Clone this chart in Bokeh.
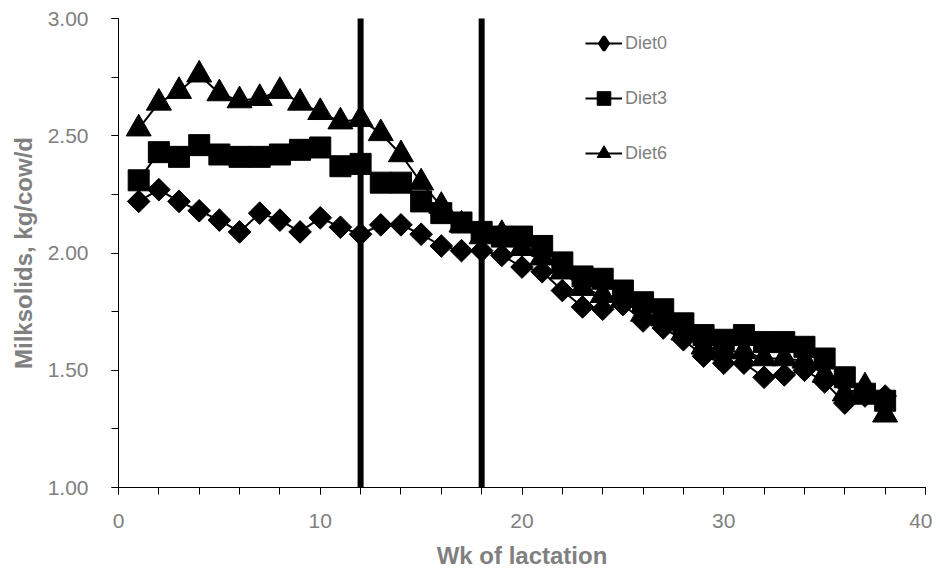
import numpy as np
from bokeh.plotting import figure
from bokeh.models import (Range1d, FixedTicker, Legend, LegendItem,
                          ColumnDataSource, NumeralTickFormatter)
from bokeh.embed import file_html
from bokeh.resources import INLINE

weeks = list(range(1, 39))
diet0 = [2.22, 2.27, 2.22, 2.18, 2.14, 2.09, 2.17, 2.14, 2.09, 2.15,
         2.11, 2.08, 2.12, 2.12, 2.08, 2.03, 2.01, 2.01, 1.99, 1.94,
         1.92, 1.84, 1.77, 1.76, 1.78, 1.71, 1.68, 1.63, 1.56, 1.53,
         1.53, 1.47, 1.48, 1.50, 1.45, 1.36, 1.39, 1.39]
diet3 = [2.31, 2.43, 2.41, 2.46, 2.42, 2.41, 2.41, 2.42, 2.44, 2.45,
         2.37, 2.38, 2.30, 2.30, 2.22, 2.17, 2.13, 2.09, 2.07, 2.07,
         2.03, 1.96, 1.90, 1.89, 1.84, 1.79, 1.76, 1.70, 1.65, 1.63,
         1.65, 1.62, 1.62, 1.60, 1.55, 1.47, 1.40, 1.37]
diet6 = [2.53, 2.64, 2.69, 2.76, 2.68, 2.65, 2.66, 2.69, 2.64, 2.60,
         2.56, 2.57, 2.51, 2.42, 2.30, 2.20, 2.12, 2.07, 2.08, 2.02,
         1.98, 1.92, 1.85, 1.82, 1.80, 1.74, 1.72, 1.66, 1.60, 1.58,
         1.58, 1.55, 1.55, 1.54, 1.48, 1.40, 1.43, 1.31]
series_names = ["Diet0", "Diet3", "Diet6"]
period_weeks = [12, 18]
x_major = [0, 10, 20, 30, 40]
y_major = [1.0, 1.5, 2.0, 2.5, 3.0]

GREY = "#808080"
FONT = "Liberation Sans"

p = figure(width=932, height=571, x_range=Range1d(0, 40), y_range=Range1d(1, 3),
           output_backend="svg", toolbar_location=None,
           min_border_left=118, min_border_right=7,
           min_border_top=18, min_border_bottom=84)
p.xgrid.visible = False
p.ygrid.visible = False
p.outline_line_color = None
p.background_fill_color = "white"
p.border_fill_color = "white"

p.xaxis.ticker = FixedTicker(ticks=x_major, minor_ticks=list(range(0, 41, 2)))
p.yaxis.ticker = FixedTicker(ticks=y_major, minor_ticks=list(np.arange(1.0, 3.01, 0.25)))
p.yaxis.formatter = NumeralTickFormatter(format="0.00")

for ax in (p.xaxis, p.yaxis):
    ax.axis_line_color = "black"
    ax.axis_line_width = 1
    ax.major_tick_line_color = "black"
    ax.minor_tick_line_color = "black"
    ax.major_tick_in = 0
    ax.major_tick_out = 7
    ax.minor_tick_in = 0
    ax.minor_tick_out = 7
    ax.major_label_text_font = FONT
    ax.major_label_text_font_size = "21px"
    ax.major_label_text_color = GREY
    ax.axis_label_text_font = FONT
    ax.axis_label_text_font_size = "24px"
    ax.axis_label_text_font_style = "bold"
    ax.axis_label_text_color = GREY

p.xaxis.axis_label = "Wk of lactation"
p.yaxis.axis_label = "Milksolids, kg/cow/d"
p.xaxis.major_label_standoff = 19
p.yaxis.major_label_standoff = 23
p.xaxis.axis_label_standoff = 11
p.yaxis.axis_label_standoff = 8

# period boundary lines
p.segment(x0=period_weeks, x1=period_weeks, y0=[1.0] * len(period_weeks),
          y1=[3.025] * len(period_weeks), line_color="black", line_width=6)

src = ColumnDataSource(dict(w=weeks, d0=diet0, d3=diet3, d6=diet6))

items = []

# Diet0: diamonds (rotated squares); a small true-diamond layer underneath
# supplies the legend swatch
l0 = p.line("w", "d0", source=src, line_color="black", line_width=2)
s0_leg = p.scatter("w", "d0", source=src, marker="diamond", size=12,
                   fill_color="black", line_color="black", line_width=3)
p.scatter("w", "d0", source=src, marker="square", size=16, angle=np.pi / 4,
          fill_color="black", line_color="black")
items.append(LegendItem(label=series_names[0], renderers=[l0, s0_leg]))

l3 = p.line("w", "d3", source=src, line_color="black", line_width=2)
s3 = p.scatter("w", "d3", source=src, marker="square", size=21,
               fill_color="black", line_color="black")
items.append(LegendItem(label=series_names[1], renderers=[l3, s3]))

l6 = p.line("w", "d6", source=src, line_color="black", line_width=2)
s6 = p.scatter("w", "d6", source=src, marker="triangle", size=25,
               fill_color="black", line_color="black")
items.append(LegendItem(label=series_names[2], renderers=[l6, s6]))

legend = Legend(items=items, location=(467, 317), padding=0, margin=0,
                spacing=21, glyph_width=37, glyph_height=34, label_height=34,
                label_standoff=3, border_line_color=None,
                background_fill_alpha=0,
                label_text_font=FONT, label_text_font_size="18px",
                label_text_color=GREY)
p.add_layout(legend, "center")

open("out.html", "w").write(file_html(p, INLINE))
